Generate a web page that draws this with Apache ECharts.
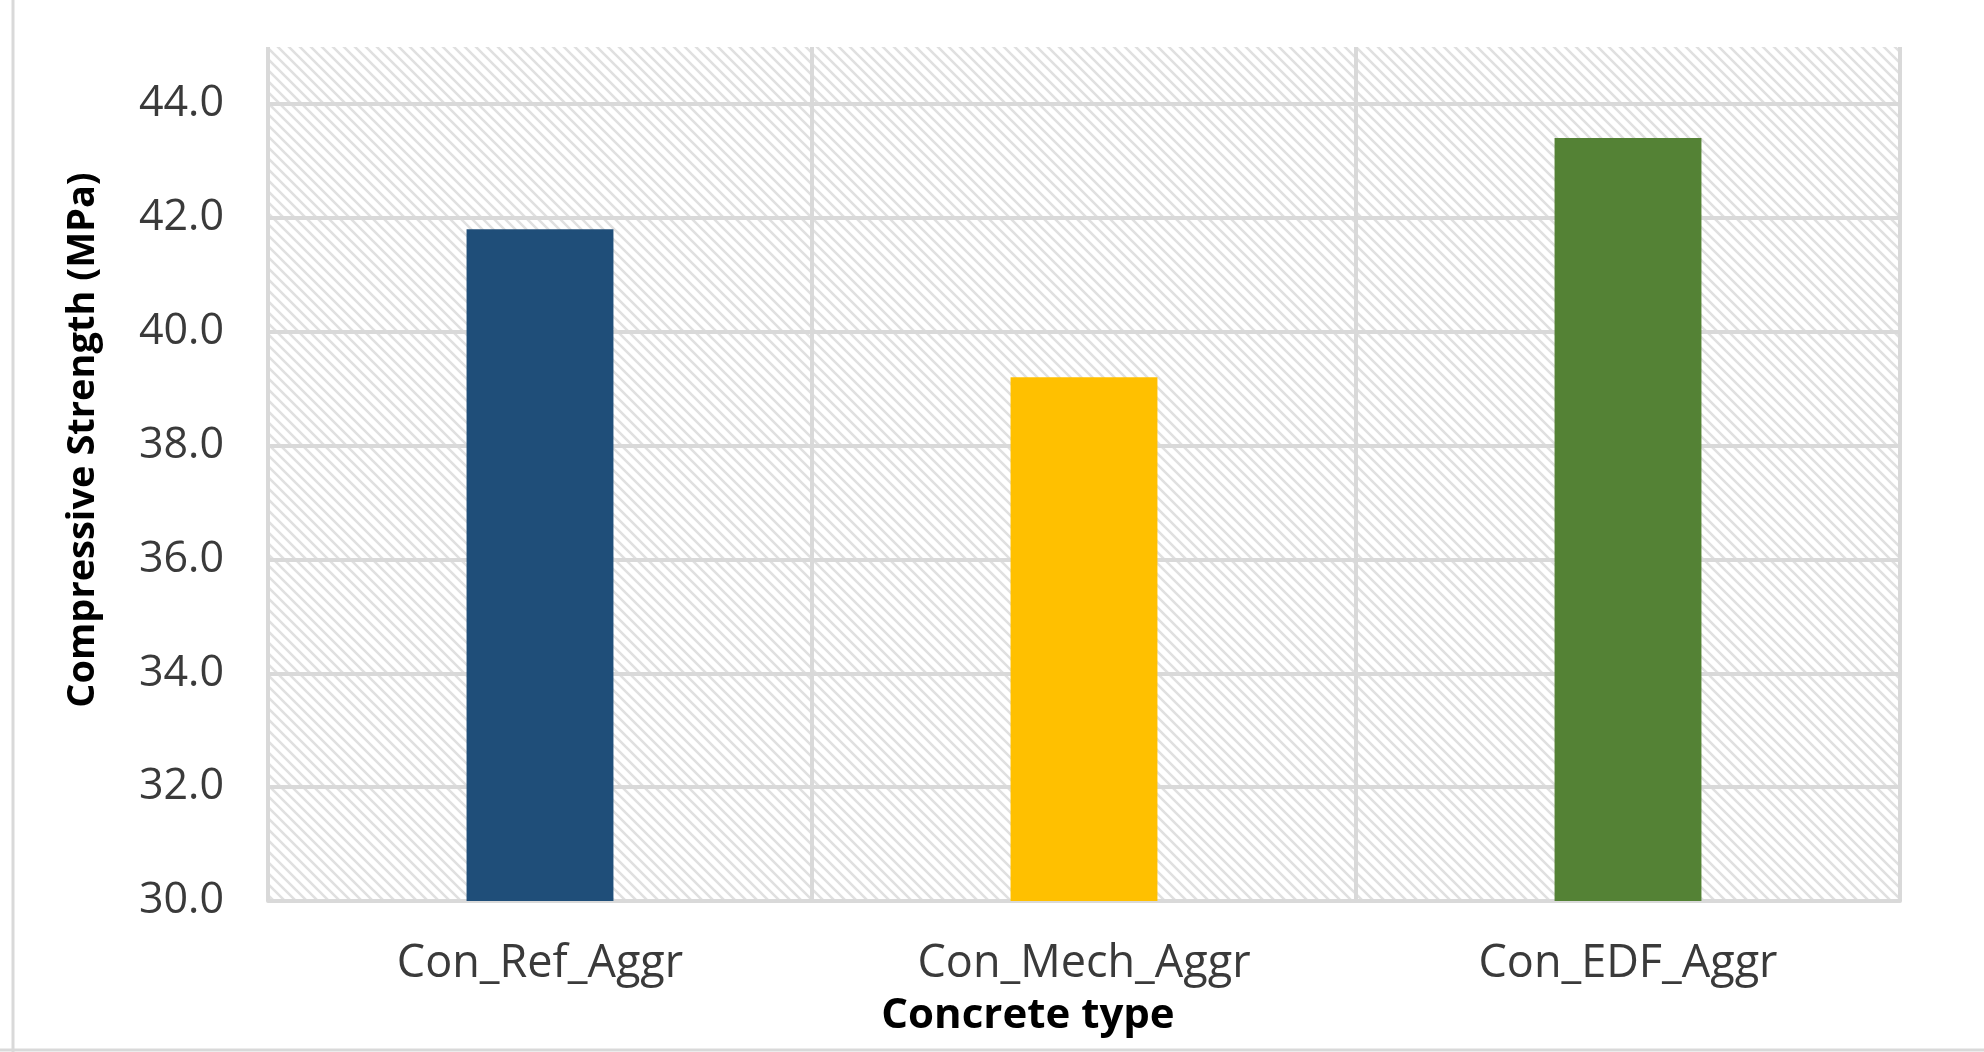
<!DOCTYPE html>
<html>
<head>
<meta charset="utf-8">
<script src="https://cdn.jsdelivr.net/npm/echarts@6/dist/echarts.min.js"></script>
<style>
html,body{margin:0;padding:0;background:#fff;}
#chart{width:1984px;height:1052px;}
</style>
</head>
<body>
<div id="chart"></div>
<script>
const categories = ['Con_Ref_Aggr', 'Con_Mech_Aggr', 'Con_EDF_Aggr'];
const strengthValues = [41.8, 39.2, 43.4];
const barColors = ['#1F4E79', '#FFC000', '#548235'];
const yAxisTitle = 'Compressive Strength (MPa)';
const xAxisTitle = 'Concrete type';

function makeHatch() {
  const s = 11;
  const c = document.createElement('canvas');
  c.width = s; c.height = s;
  const g = c.getContext('2d');
  g.fillStyle = '#ffffff';
  g.fillRect(0, 0, s, s);
  g.strokeStyle = '#e0e0e0';
  g.lineWidth = 2.6;
  g.beginPath();
  g.moveTo(-2, -2); g.lineTo(s + 2, s + 2);
  g.moveTo(-2, s - 2); g.lineTo(2, s + 2);
  g.moveTo(s - 2, -2); g.lineTo(s + 2, 2);
  g.stroke();
  return c;
}

const chart = echarts.init(document.getElementById('chart'), null, {renderer: 'canvas'});
const gridColor = '#d9d9d9';
const font = '"Open Sans", sans-serif';

chart.setOption({
  animation: false,
  backgroundColor: '#ffffff',
  grid: {
    show: true,
    left: 268, right: 84, top: 47, bottom: 151,
    backgroundColor: {image: makeHatch(), repeat: 'repeat'},
    borderWidth: 0
  },
  xAxis: {
    type: 'category',
    data: categories,
    boundaryGap: true,
    axisLine: {show: true, lineStyle: {color: gridColor, width: 4}},
    axisTick: {show: false},
    splitLine: {show: true, interval: 0, lineStyle: {color: gridColor, width: 4}},
    axisLabel: {fontFamily: font, fontSize: 45, color: '#3a3a3a', margin: 41, interval: 0},
    name: xAxisTitle,
    nameLocation: 'middle',
    nameGap: 94,
    nameTextStyle: {fontFamily: font, fontSize: 42, fontWeight: 'bold', color: '#000', padding: [0, 112, 0, 0]}
  },
  yAxis: {
    type: 'value',
    min: 30, max: 45, interval: 2,
    axisLine: {show: false},
    axisTick: {show: false},
    splitLine: {show: true, showMaxLine: false, lineStyle: {color: gridColor, width: 4}},
    axisLabel: {
      fontFamily: font, fontSize: 43, color: '#3a3a3a', margin: 44,
      showMaxLabel: false,
      formatter: function (v) { return v >= 45 ? '' : v.toFixed(1); }
    },
    name: yAxisTitle,
    nameLocation: 'middle',
    nameGap: 166,
    nameRotate: 90,
    nameTextStyle: {fontFamily: font, fontSize: 38, fontWeight: 'bold', color: '#000', padding: [0, 0, 0, 68]}
  },
  series: [{
    type: 'bar',
    barWidth: '27%',
    data: strengthValues.map((v, i) => ({value: v, itemStyle: {color: barColors[i]}}))
  }],
  graphic: [
    {type: 'line', shape: {x1: 13, y1: 0, x2: 13, y2: 1052}, style: {stroke: gridColor, lineWidth: 3}, silent: true},
    {type: 'line', shape: {x1: 0, y1: 1050, x2: 1984, y2: 1050}, style: {stroke: gridColor, lineWidth: 3}, silent: true}
  ]
});
</script>
</body>
</html>
